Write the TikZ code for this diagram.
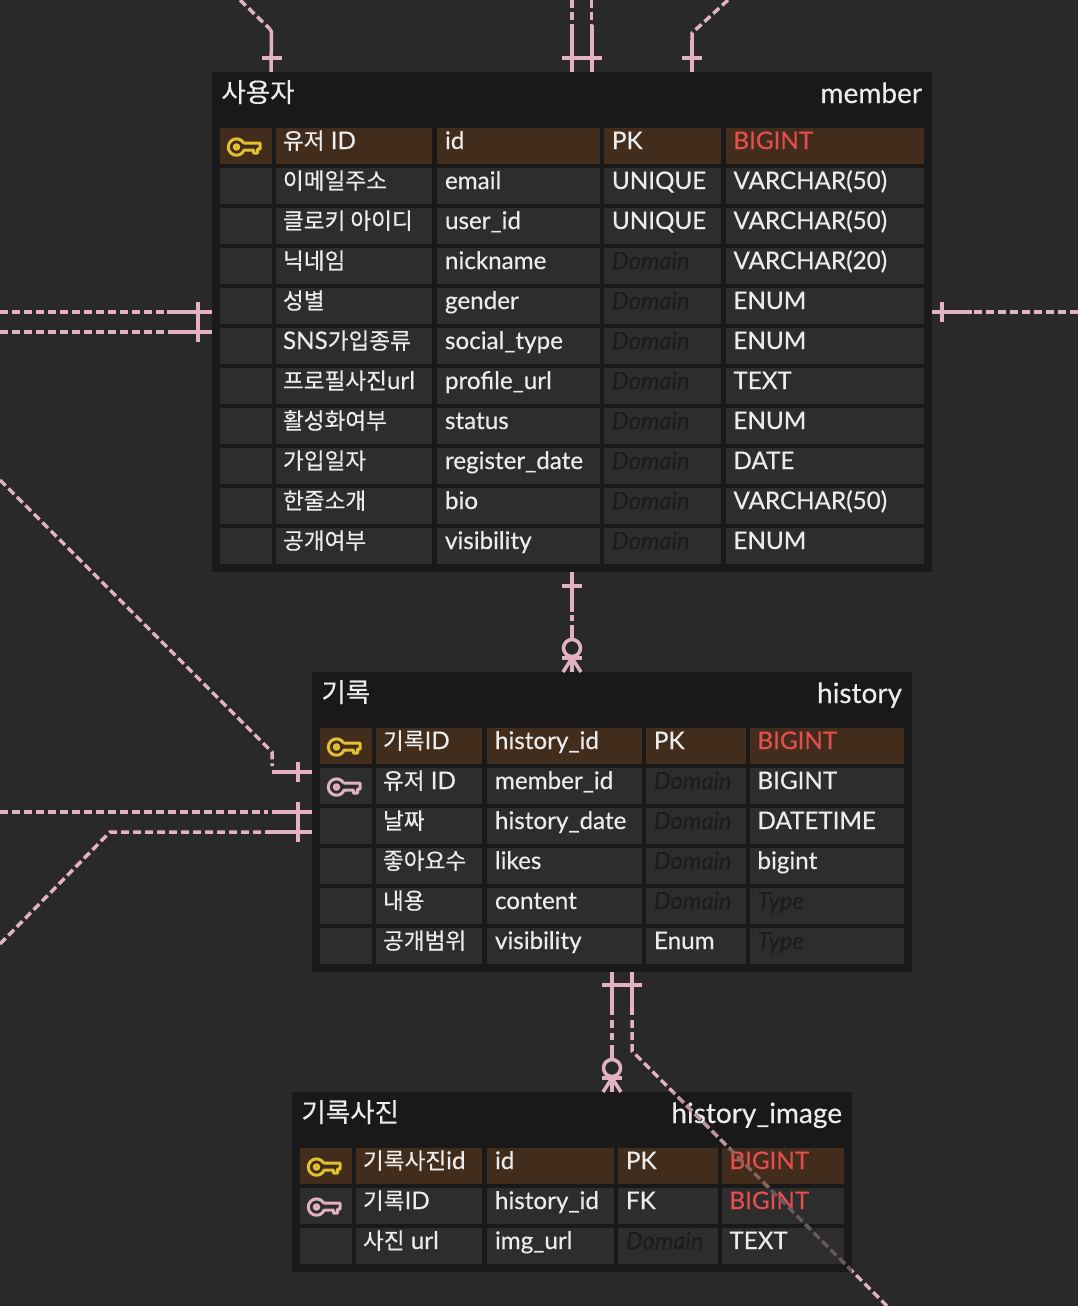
\documentclass[tikz,border=0pt]{standalone}
\usepackage{fontspec}
\setmainfont{Lato}[FakeBold=0.35]
\newfontfamily\krf{Noto Sans CJK KR}[FakeBold=0.35]
\definecolor{bgc}{RGB}{41,41,41}
\definecolor{tblc}{RGB}{25,25,25}
\definecolor{cellc}{RGB}{45,45,45}
\definecolor{pkc}{RGB}{66,44,28}
\definecolor{relc}{RGB}{226,178,190}
\definecolor{txtc}{RGB}{236,236,236}
\definecolor{redc}{RGB}{228,78,78}
\definecolor{domc}{RGB}{28,28,28}
\definecolor{keyy}{RGB}{226,192,48}
\newcommand\kr[1]{{\krf\fontsize{22.6}{26}\selectfont #1}}
\newcommand\tred[1]{\textcolor{redc}{#1}}
\newcommand\tdom[1]{\textcolor{domc}{\fontsize{23.6}{28}\selectfont\itshape #1}}
\tikzset{
  tbl/.style={fill=tblc,draw=none,inner sep=0pt,outer sep=0pt,anchor=north west},
  cellbox/.style={draw=none,inner sep=0pt,outer sep=0pt,minimum height=36pt,anchor=north west},
  lbl/.style={text=txtc,inner sep=0pt,outer sep=0pt,anchor=base west,font=\fontsize{24.2}{28}\selectfont},
  ttl/.style={text=txtc,inner sep=0pt,outer sep=0pt,font=\fontsize{28}{32}\selectfont},
  link/.style={draw=relc,line width=3.5pt},
  linkdash/.style={draw=relc,line width=3.5pt,dash pattern=on 8pt off 4pt},
  keyline/.style={line width=3pt,line join=round,fill=none},
}
% key icon: ring centre at (#1,#2), colour #3
\newcommand\keyicon[3]{%
  \begin{scope}[shift={(#1,#2)}]
    \draw[keyline,draw=#3] (7.17,-3.97) -- (23.5,-4) -- (23.5,2) -- (21,2) -- (21,6) -- (17,6) -- (17,3) -- (7.65,3)
       arc[start angle=21,end angle=331,radius=8.2];
    \draw[keyline,draw=#3] (0,0) circle[radius=2.2];
  \end{scope}}
\def\setcols#1,#2,#3,#4,#5,#6,#7,#8,#9;{\def\xA{#1}\def\xB{#2}\def\wB{#3}\def\xC{#4}\def\wC{#5}\def\xD{#6}\def\wD{#7}\def\xE{#8}\def\wE{#9}}
% #1 name, #2 top, #3 fill, #4 key colour or none, #5..#8 texts
\newcommand\erow[8]{%
  \node[cellbox,fill=#3,minimum width=52pt] (#1a) at (\xA,#2) {};
  \node[cellbox,fill=#3,minimum width=\wB pt] (#1b) at (\xB,#2) {};
  \node[cellbox,fill=#3,minimum width=\wC pt] (#1c) at (\xC,#2) {};
  \node[cellbox,fill=#3,minimum width=\wD pt] (#1d) at (\xD,#2) {};
  \node[cellbox,fill=#3,minimum width=\wE pt] (#1e) at (\xE,#2) {};
  \node[lbl] (#1bt) at (\xB+7,#2+21) {#5};
  \node[lbl] (#1ct) at (\xC+8,#2+21) {#6};
  \node[lbl] (#1dt) at (\xD+8,#2+21) {#7};
  \node[lbl] (#1et) at (\xE+7.5,#2+21) {#8};
  \ifx#4n\else\keyicon{\xA+16.5}{#2+19}{#4}\fi
}
\begin{document}
\begin{tikzpicture}[x=1pt,y=-1pt]
\useasboundingbox (0,0) rectangle (1078,1306);
\fill[bgc] (0,0) rectangle (1078,1306);

% tables
\node[tbl,minimum width=720pt,minimum height=500pt] (member) at (212,72) {};
\node[tbl,minimum width=600pt,minimum height=300pt] (history) at (312,672) {};
\node[tbl,minimum width=560pt,minimum height=180pt] (image) at (292,1092) {};

% anchors and free ends
\path (member.north west) ++(59,0) coordinate (mt1) ++(301,0) coordinate (mt2) ++(20,0) coordinate (mt3) ++(100,0) coordinate (mt4);
\path (member.north west) ++(0,240) coordinate (ml1) ++(0,20) coordinate (ml2);
\path (member.north east) ++(0,240) coordinate (mr1);
\path (member.south west) ++(360,0) coordinate (mb);
\path (history.north west) ++(260,0) coordinate (ht);
\path (history.north west) ++(0,100) coordinate (hl1) ++(0,40) coordinate (hl2) ++(0,20) coordinate (hl3);
\path (history.south west) ++(300,0) coordinate (hb1) ++(20,0) coordinate (hb2);
\path (image.north west) ++(320,0) coordinate (it);
\coordinate (e1) at (240,0);
\coordinate (e2) at (572,0);
\coordinate (e3) at (591.7,0);
\coordinate (e4) at (728,0);
\coordinate (e5) at (0,312);
\coordinate (e6) at (0,332);
\coordinate (e7) at (1078,312);
\coordinate (e8) at (0,480);
\coordinate (e9) at (0,812);
\coordinate (e10) at (0,944);
\coordinate (e11) at (887,1306);

% connectors: member top
\draw[linkdash] (e1) -- (270,29);
\draw[link,line join=round] (270,29) -- (271.5,32) -- (mt1);
\draw[link] (261.5,58) -- (281.5,58);
\draw[linkdash] (e2) -- ++(0,26);
\draw[link] (mt2) -- ++(0,-47);
\draw[linkdash] (e3) -- ++(0,26);
\draw[link] (mt3) -- ++(0,-47);
\draw[link] (561.5,58) -- (601.5,58);
\draw[linkdash] (e4) -- (692,33) -- (692,40);
\draw[link] (mt4) -- ++(0,-32);
\draw[link] (682,58) -- (702,58);

% member left and right
\draw[linkdash] (e5) -- (167,312);
\draw[link] (ml1) -- ++(-45,0);
\draw[linkdash] (e6) -- (169,332);
\draw[link] (ml2) -- ++(-43,0);
\draw[link] (198,302) -- (198,342);
\draw[link] (mr1) -- ++(40,0);
\draw[linkdash] (e7) -- (972,312);
\draw[link] (942,302) -- (942,322);

% member to history
\draw[link] (mb) -- (572,612);
\draw[link] (572,615) -- (572,621);
\draw[link] (572,625) -- (572,639.5);
\draw[link] (562,586) -- (582,586);
\draw[link] (572,648) circle[radius=8.5];
\draw[link] (562,658) -- (582,658);
\draw[link] (572,658) -- (ht);
\draw[link] (572,658) -- (563,672);
\draw[link] (572,658) -- (581,672);

% history left
\draw[linkdash] (e8) -- (272,752) -- (272,766);
\draw[link] (hl1) -- ++(-40,0);
\draw[link] (298,762) -- (298,782);
\draw[linkdash] (e9) -- (268,812);
\draw[link] (hl2) -- ++(-40,0);
\draw[linkdash] (e10) -- (110,832) -- (266,832);
\draw[link] (hl3) -- ++(-46,0);
\draw[link] (298,802) -- (298,842);

% history bottom
\draw[link] (hb1) -- ++(0,43);
\draw[link] (612,1020) -- (612,1028);
\draw[link] (612,1033) -- (612,1040);
\draw[link] (612,1045) -- (612,1059.5);
\draw[link] (602,985) -- (642,985);
\draw[link] (612,1068) circle[radius=8.5];
\draw[link] (602,1078) -- (622,1078);
\draw[link] (612,1078) -- (it);
\draw[link] (612,1078) -- (603,1092);
\draw[link] (612,1078) -- (621,1092);
\draw[link] (hb2) -- ++(0,43);
\draw[linkdash] (632,1020) -- (632,1051) -- (e11);

% titles
\node[ttl,anchor=base west] (mtitle) at (221.5,102) {\kr{\fontsize{26.5}{30}\selectfont 사용자}};
\node[ttl,anchor=base east] (mname) at (922,103) {member};
\node[ttl,anchor=base west] (htitle) at (321.5,702) {\kr{\fontsize{26.5}{30}\selectfont 기록}};
\node[ttl,anchor=base east] (hname) at (902,703) {history};
\node[ttl,anchor=base west] (ititle) at (301.5,1122) {\kr{\fontsize{26.5}{30}\selectfont 기록사진}};
\node[ttl,anchor=base east] (iname) at (842,1123) {history\_image};

% member rows
\setcols 220,276,156,437,163,604,117,726,198;
\erow{m1}{128}{pkc}{keyy}{\kr{유저} ID}{id}{PK}{\tred{BIGINT}}
\erow{m2}{168}{cellc}{n}{\kr{이메일주소}}{email}{UNIQUE}{VARCHAR(50)}
\erow{m3}{208}{cellc}{n}{\kr{클로키 아이디}}{user\_id}{UNIQUE}{VARCHAR(50)}
\erow{m4}{248}{cellc}{n}{\kr{닉네임}}{nickname}{\tdom{Domain}}{VARCHAR(20)}
\erow{m5}{288}{cellc}{n}{\kr{성별}}{gender}{\tdom{Domain}}{ENUM}
\erow{m6}{328}{cellc}{n}{SNS\kr{가입종류}}{social\_type}{\tdom{Domain}}{ENUM}
\erow{m7}{368}{cellc}{n}{\kr{프로필사진}url}{profile\_url}{\tdom{Domain}}{TEXT}
\erow{m8}{408}{cellc}{n}{\kr{활성화여부}}{status}{\tdom{Domain}}{ENUM}
\erow{m9}{448}{cellc}{n}{\kr{가입일자}}{register\_date}{\tdom{Domain}}{DATE}
\erow{m10}{488}{cellc}{n}{\kr{한줄소개}}{bio}{\tdom{Domain}}{VARCHAR(50)}
\erow{m11}{528}{cellc}{n}{\kr{공개여부}}{visibility}{\tdom{Domain}}{ENUM}

% history rows
\setcols 320,376,106,487,155,646,100,750,154;
\erow{h1}{728}{pkc}{keyy}{\kr{기록}ID}{history\_id}{PK}{\tred{BIGINT}}
\erow{h2}{768}{cellc}{relc}{\kr{유저} ID}{member\_id}{\tdom{Domain}}{BIGINT}
\erow{h3}{808}{cellc}{n}{\kr{날짜}}{history\_date}{\tdom{Domain}}{DATETIME}
\erow{h4}{848}{cellc}{n}{\kr{좋아요수}}{likes}{\tdom{Domain}}{bigint}
\erow{h5}{888}{cellc}{n}{\kr{내용}}{content}{\tdom{Domain}}{\tdom{Type}}
\erow{h6}{928}{cellc}{n}{\kr{공개범위}}{visibility}{Enum}{\tdom{Type}}

% image rows
\setcols 300,356,126,487,127,618,100,722,122;
\erow{i1}{1148}{pkc}{keyy}{\kr{기록사진}id}{id}{PK}{\tred{BIGINT}}
\erow{i2}{1188}{cellc}{relc}{\kr{기록}ID}{history\_id}{FK}{\tred{BIGINT}}
\erow{i3}{1228}{cellc}{n}{\kr{사진} url}{img\_url}{\tdom{Domain}}{TEXT}

% the diagonal as it shows over the history_image table
\begin{scope}
  \clip (640,1092) rectangle (852,1148);
  \draw[linkdash,draw=relc!80!tblc] (632,1020) -- (632,1051) -- (e11);
\end{scope}
\begin{scope}
  \clip (640,1148) rectangle (852,1188);
  \draw[linkdash,draw=relc!42!pkc] (632,1020) -- (632,1051) -- (e11);
\end{scope}
\begin{scope}
  \clip (640,1188) rectangle (852,1272);
  \draw[linkdash,draw=relc!32!cellc] (632,1020) -- (632,1051) -- (e11);
\end{scope}
\end{tikzpicture}
\end{document}
